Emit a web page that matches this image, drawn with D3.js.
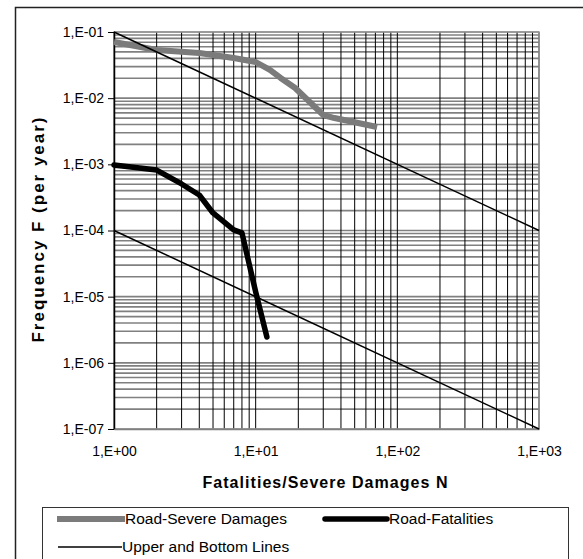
<!DOCTYPE html>
<html>
<head>
<meta charset="utf-8">
<script src="https://cdn.jsdelivr.net/npm/d3@7"></script>
<style>
    body { margin: 0; background: #fff; }
    text { font-family: "Liberation Sans", Arial, sans-serif; }
</style>
</head>
<body>
<div id="wrapper"></div>
<script>
// series (N, F per year)
const severeN = [1, 2, 4, 7, 10, 12.6, 15, 19, 30, 36, 72]
const severeF = [0.0706, 0.0535, 0.0482, 0.0405, 0.0352, 0.0267, 0.0202, 0.01425, 0.00557, 0.00501, 0.00366]
const fatalN = [1, 2, 3, 4, 5, 7, 8, 10, 12]
const fatalF = [9.8e-4, 8.2e-4, 5.05e-4, 3.44e-4, 1.84e-4, 1.02e-4, 9.2e-5, 1.18e-5, 2.46e-6]
const limitN = [1, 1000]
const upperF = [1e-1, 1e-4]
const bottomF = [1e-4, 1e-7]

const xTickValues = [1, 10, 100, 1000]
const xTickLabels = ["1,E+00", "1,E+01", "1,E+02", "1,E+03"]
const yTickValues = [1e-1, 1e-2, 1e-3, 1e-4, 1e-5, 1e-6, 1e-7]
const yTickLabels = ["1,E-01", "1,E-02", "1,E-03", "1,E-04", "1,E-05", "1,E-06", "1,E-07"]
const legendNames = ["Road-Severe Damages", "Road-Fatalities", "Upper and Bottom Lines"]

function drawChart() {
    let dimensions = {
        width: 583,
        height: 559,
        margin: {
            top: 32,
            right: 44,
            bottom: 130,
            left: 114,
        },
    }
    dimensions.boundedWidth = dimensions.width
        - dimensions.margin.left
        - dimensions.margin.right
    dimensions.boundedHeight = dimensions.height
        - dimensions.margin.top
        - dimensions.margin.bottom

    const wrapper = d3.select("#wrapper")
        .append("svg")
        .attr("width", dimensions.width)
        .attr("height", dimensions.height)

    // outer chart frame (runs off the picture on the right and bottom)
    wrapper.append("rect")
        .attr("x", 15.5)
        .attr("y", 7.5)
        .attr("width", 700)
        .attr("height", 700)
        .attr("fill", "none")
        .attr("stroke", "#222")
        .attr("stroke-width", 1.5)

    const bounds = wrapper.append("g")
        .attr("transform", `translate(${dimensions.margin.left},${dimensions.margin.top})`)

    const xScale = d3.scaleLog()
        .domain([1, 1000])
        .range([0, dimensions.boundedWidth])
    const yScale = d3.scaleLog()
        .domain([1e-7, 1e-1])
        .range([dimensions.boundedHeight, 0])

    // horizontal minor + major grid, grey
    bounds.append("g")
        .selectAll("line")
        .data(yScale.ticks())
        .join("line")
        .attr("x1", 0)
        .attr("x2", dimensions.boundedWidth)
        .attr("y1", d => yScale(d))
        .attr("y2", d => yScale(d))
        .attr("stroke", "#808080")
        .attr("stroke-width", 1.6)

    // vertical grid, black
    bounds.append("g")
        .selectAll("line")
        .data(xScale.ticks())
        .join("line")
        .attr("x1", d => xScale(d))
        .attr("x2", d => xScale(d))
        .attr("y1", 0)
        .attr("y2", dimensions.boundedHeight)
        .attr("stroke", "#000")
        .attr("stroke-width", 1)

    bounds.append("rect")
        .attr("width", dimensions.boundedWidth)
        .attr("height", dimensions.boundedHeight)
        .attr("fill", "none")
        .attr("stroke", "#999")
        .attr("stroke-width", 1.5)

    const yAxis = bounds.append("g")
        .call(d3.axisLeft(yScale)
            .tickValues(yTickValues)
            .tickFormat((d, i) => yTickLabels[i])
            .tickSize(6)
            .tickSizeOuter(0)
            .tickPadding(4))
    yAxis.attr("font-size", 14).attr("font-family", "Liberation Sans, Arial, sans-serif")
    yAxis.select(".domain").attr("stroke", "#000").attr("stroke-width", 1.5)

    const xAxis = bounds.append("g")
        .attr("transform", `translate(0,${dimensions.boundedHeight})`)
        .call(d3.axisBottom(xScale)
            .tickValues(xTickValues)
            .tickFormat((d, i) => xTickLabels[i])
            .tickSize(0)
            .tickSizeOuter(0)
            .tickPadding(17))
    xAxis.attr("font-size", 14).attr("font-family", "Liberation Sans, Arial, sans-serif")
    xAxis.select(".domain").attr("stroke", "#808080").attr("stroke-width", 1.5)

    const lineGenerator = (xs, ys) => d3.line()
        .x((d, i) => xScale(xs[i]))
        .y((d, i) => yScale(ys[i]))(xs)

    bounds.append("path")
        .attr("d", lineGenerator(severeN, severeF))
        .attr("fill", "none")
        .attr("stroke", "#7b7b7b")
        .attr("stroke-width", 6)
        .attr("stroke-linejoin", "round")

    bounds.append("path")
        .attr("d", lineGenerator(fatalN, fatalF))
        .attr("fill", "none")
        .attr("stroke", "#000")
        .attr("stroke-width", 5.5)
        .attr("stroke-linejoin", "round")
        .attr("stroke-linecap", "round")

    ;[upperF, bottomF].forEach(f => {
        bounds.append("path")
            .attr("d", lineGenerator(limitN, f))
            .attr("fill", "none")
            .attr("stroke", "#000")
            .attr("stroke-width", 1.5)
    })

    // axis titles
    wrapper.append("text")
        .attr("x", 325)
        .attr("y", 488)
        .attr("text-anchor", "middle")
        .attr("font-size", 16)
        .attr("font-weight", "bold")
        .attr("textLength", 245)
        .attr("lengthAdjust", "spacing")
        .text("Fatalities/Severe Damages N")

    wrapper.append("text")
        .attr("transform", "translate(44,230) rotate(-90)")
        .attr("text-anchor", "middle")
        .attr("font-size", 17)
        .attr("font-weight", "bold")
        .attr("textLength", 225)
        .attr("lengthAdjust", "spacing")
        .text("Frequency F (per year)")

    // legend
    const legend = wrapper.append("g")
    legend.append("rect")
        .attr("x", 42.5)
        .attr("y", 507.5)
        .attr("width", 526)
        .attr("height", 100)
        .attr("fill", "#fff")
        .attr("stroke", "#333")
        .attr("stroke-width", 1)

    const legendItems = [
        { x: 57, y: 519, len: 68, color: "#7b7b7b", w: 6, cap: "butt" },
        { x: 325, y: 519, len: 62, color: "#000", w: 5.5, cap: "round" },
        { x: 58, y: 547, len: 64, color: "#000", w: 1.5, cap: "butt" },
    ]
    legendItems.forEach((d, i) => {
        legend.append("line")
            .attr("x1", d.x)
            .attr("x2", d.x + d.len)
            .attr("y1", d.y)
            .attr("y2", d.y)
            .attr("stroke", d.color)
            .attr("stroke-width", d.w)
            .attr("stroke-linecap", d.cap)
        legend.append("text")
            .attr("x", d.x + d.len + (i == 1 ? 2 : 0))
            .attr("y", d.y + 5)
            .attr("font-size", 15.5)
            .text(legendNames[i])
    })
}
drawChart()
</script>
</body>
</html>
